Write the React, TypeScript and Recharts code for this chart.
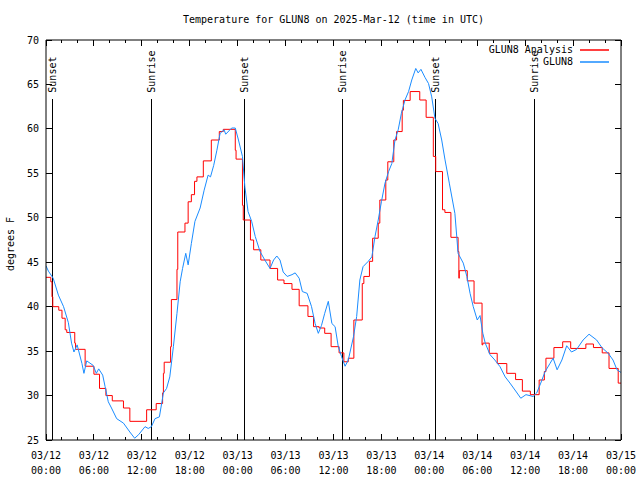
import React from "react";
import { LineChart, Line, XAxis, YAxis, ReferenceLine } from "recharts";

// hours since 03/12 00:00 UTC, temps in degrees F
const analysisHours = [
  0, 0.6, 0.75, 0.85, 1.6, 2.0, 2.4, 2.6, 3.6, 3.7, 4.9, 6.0, 6.7, 7.5, 8.3, 9.7, 10.5, 12.6, 13.8, 14.6,
  14.7, 14.8, 15.6, 15.7, 16.4, 16.5, 17.4, 17.8, 18.2, 18.6, 18.9, 19.7, 20.7, 21.7, 22.2, 23.7, 23.8,
  24.6, 24.7, 25.6, 26.0, 26.9, 28.05, 29.0, 29.8, 30.8, 31.7, 32.8, 33.5, 34.2, 34.9, 35.7, 36.7, 37.3,
  37.85, 38.55, 39.6, 39.8, 40.5, 40.9, 41.6, 41.8, 42.55, 42.8, 43.55, 43.9, 44.6, 44.75, 45.6, 46.8,
  47.6, 48.5, 48.8, 49.65, 49.95, 50.7, 51.6, 51.7, 51.75, 52.75, 53.6, 54.6, 54.7, 55.5, 56.5, 57.7,
  58.8, 59.65, 60.65, 61.75, 62.4, 62.6, 63.6, 64.7, 65.7, 67.6, 68.55, 69.65, 70.5, 71.65, 72,
];
const analysisTemps = [
  43.3, 42.8, 41.1, 40.0, 39.6, 38.7, 37.4, 37.1, 35.9, 35.2, 33.3, 32.4, 30.8, 30.0, 29.4, 28.6, 27.1, 28.4, 29.1, 30.3,
  32.5, 33.75, 35.5, 40.8, 44.2, 48.4, 49.4, 51.8, 52.6, 54.1, 54.6, 56.4, 58.75, 59.7, 59.95, 57.6, 56.6,
  51.4, 49.75, 47.5, 46.4, 45.25, 44.3, 43.0, 42.6, 41.95, 40.1, 38.9, 37.75, 37.6, 37.0, 35.5, 34.8, 33.8,
  34.2, 38.5, 42.6, 43.4, 45.1, 47.7, 49.4, 52.0, 54.25, 56.3, 58.75, 59.7, 62.1, 63.2, 64.2, 63.25,
  61.3, 56.9, 55.2, 50.9, 50.6, 47.8, 46.2, 43.2, 44.05, 42.9, 40.4, 35.7, 35.9, 34.75, 33.6, 32.5,
  31.8, 30.5, 30.1, 31.75, 32.7, 34.2, 35.4, 36.05, 35.3, 35.8, 35.4, 34.8, 33.05, 31.4, 31.4,
];

const obsHours = [
  0, 0.3, 0.9, 1.55, 2.2, 2.8, 3.2, 3.5, 3.9, 4.5, 4.75, 5.1, 5.9, 6.3, 6.6, 7.1, 7.4, 7.8, 8.2, 8.85,
  9.7, 10.5, 11.1, 11.6, 12.4, 12.8, 13.2, 13.65, 14.2, 14.7, 15.1, 15.5, 15.95, 16.4, 16.8, 17.1, 17.5,
  17.8, 18.2, 18.65, 19.3, 19.8, 20.3, 20.6, 21.0, 21.4, 21.8, 22.3, 22.5, 23.25, 23.7, 24.1, 24.6, 24.9,
  25.3, 25.75, 26.2, 26.8, 27.4, 28.05, 28.5, 28.9, 29.3, 29.7, 30.2, 30.8, 31.2, 31.7, 32.1, 32.7, 33.25,
  33.7, 34.1, 34.5, 34.9, 35.35, 35.8, 36.2, 36.6, 37.0, 37.45, 37.85, 38.5, 38.9, 39.3, 39.7, 40.35, 40.8,
  41.2, 41.6, 42.0, 42.45, 42.9, 43.3, 43.7, 44.1, 44.5, 44.95, 45.4, 45.8, 46.3, 46.6, 46.95, 47.45, 47.9,
  48.3, 48.7, 49.1, 49.55, 49.95, 50.5, 51.2, 51.6, 52.25, 52.7, 53.1, 53.5, 54.0, 54.35, 54.7, 55.0, 55.6,
  56.2, 56.85, 57.5, 58.1, 58.9, 59.45, 60.1, 61.0, 61.45, 61.95, 62.5, 63.1, 63.5, 64.0, 64.6, 65.2, 65.8,
  66.45, 67.25, 68.0, 68.95, 69.6, 70.4, 71.0, 71.5, 72,
];
const obsTemps = [
  44.6, 44.0, 43.2, 41.3, 40.0, 38.2, 35.9, 34.9, 35.7, 33.6, 32.5, 33.9, 33.4, 32.5, 33.0, 32.3, 31.0, 29.3, 28.6, 27.4,
  26.9, 25.9, 25.2, 25.6, 26.5, 26.3, 26.5, 27.4, 27.6, 30.3, 30.8, 32.1, 35.5, 39.25, 42.8, 44.3, 46.0,
  44.7, 47.1, 49.6, 51.1, 53.1, 54.8, 54.6, 55.9, 57.6, 59.5, 59.9, 59.4, 60.1, 60.1, 58.75, 56.9, 53.5,
  50.7, 49.6, 47.9, 46.2, 45.25, 44.3, 45.25, 45.7, 45.25, 43.9, 43.4, 43.6, 43.8, 43.2, 41.7, 41.5, 40.0,
  38.1, 37.0, 37.9, 39.25, 40.6, 38.1, 37.75, 35.5, 34.4, 33.3, 34.0, 36.6, 38.9, 43.0, 44.5, 45.1, 45.6,
  47.9, 49.75, 51.8, 53.9, 55.2, 56.1, 58.75, 59.9, 61.75, 63.25, 64.2, 65.5, 66.8, 66.3, 66.7, 65.8, 65.1,
  63.6, 61.2, 60.6, 58.75, 56.6, 53.9, 50.5, 46.0, 44.9, 43.4, 41.5, 40.0, 38.5, 39.0, 37.0, 35.9, 34.6,
  34.0, 33.25, 32.1, 31.4, 30.4, 29.7, 30.1, 29.9, 30.3, 31.4, 32.7, 33.6, 34.2, 32.9, 34.0, 35.6, 34.9,
  35.2, 36.25, 36.9, 36.25, 35.4, 34.75, 34.0, 32.9, 32.6,
];

const sunLabels = ["Sunset", "Sunrise", "Sunset", "Sunrise", "Sunset", "Sunrise"];
const sunHours = [0.8, 13.2, 24.8, 37.15, 48.75, 61.15];

const xTicks = [0, 2, 4, 6, 8, 10, 12, 14, 16, 18, 20, 22, 24, 26, 28, 30, 32, 34, 36, 38, 40, 42, 44, 46, 48, 50, 52, 54, 56, 58, 60, 62, 64, 66, 68, 70, 72];
const dayLabels = ["03/12", "03/12", "03/12", "03/12", "03/13", "03/13", "03/13", "03/13", "03/14", "03/14", "03/14", "03/14", "03/15"];
const timeLabels = ["00:00", "06:00", "12:00", "18:00", "00:00", "06:00", "12:00", "18:00", "00:00", "06:00", "12:00", "18:00", "00:00"];
const yTicks = [25, 30, 35, 40, 45, 50, 55, 60, 65, 70];

const RED = "#ff0000";
const BLUE = "#1a8cff";

const analysisData = analysisHours.map((h, i) => ({ h, t: analysisTemps[i] }));
const obsData = obsHours.map((h, i) => ({ h, t: obsTemps[i] }));

const mono = { fontFamily: "'DejaVu Sans Mono', monospace", fontSize: 10, fill: "#000" };

const BottomTick = ({ x, y, payload }: any) => {
  const v = payload.value;
  const major = v % 6 === 0;
  const i = v / 6;
  return (
    <g>
      <line x1={x} y1={y} x2={x} y2={y - (major ? 6 : 3)} stroke="#000" shapeRendering="crispEdges" />
      {major && (
        <text x={x} y={y + 19} textAnchor="middle" style={mono}>
          <tspan x={x}>{dayLabels[i]}</tspan>
          <tspan x={x} dy={15}>{timeLabels[i]}</tspan>
        </text>
      )}
    </g>
  );
};

const TopTick = ({ x, y, payload }: any) => {
  const major = payload.value % 6 === 0;
  return <line x1={x} y1={y} x2={x} y2={y + (major ? 6 : 3)} stroke="#000" shapeRendering="crispEdges" />;
};

const LeftTick = ({ x, y, payload }: any) => (
  <g>
    <line x1={x} y1={y} x2={x + 6} y2={y} stroke="#000" shapeRendering="crispEdges" />
    <text x={x - 7} y={y} dy="0.35em" textAnchor="end" style={mono}>
      {payload.value}
    </text>
  </g>
);

const RightTick = ({ x, y }: any) => (
  <line x1={x} y1={y} x2={x - 6} y2={y} stroke="#000" shapeRendering="crispEdges" />
);

export default function App() {
  return (
    <div style={{ position: "relative", width: 640, height: 480, background: "#fff" }}>
      <style>{"body{margin:0}"}</style>
      <div
        style={{
          position: "absolute", left: 46, width: 575, top: 14, textAlign: "center",
          fontFamily: "'DejaVu Sans Mono', monospace", fontSize: 10, lineHeight: "12px",
        }}
      >
        Temperature for GLUN8 on 2025-Mar-12 (time in UTC)
      </div>
      <LineChart width={640} height={480} margin={{ top: 0, right: 0, bottom: 0, left: 0 }}>
        <XAxis
          dataKey="h" type="number" domain={[0, 72]} ticks={xTicks} interval={0}
          height={40} tickSize={0} tickMargin={0} tickLine={false}
          axisLine={{ stroke: "#000" }} tick={<BottomTick />} allowDataOverflow
        />
        <XAxis
          xAxisId="top" orientation="top" dataKey="h" type="number" domain={[0, 72]} ticks={xTicks}
          interval={0} height={40} tickSize={0} tickMargin={0} tickLine={false}
          axisLine={{ stroke: "#000" }} tick={<TopTick />} allowDataOverflow
        />
        <YAxis
          type="number" domain={[25, 70]} ticks={yTicks} interval={0} width={46}
          tickSize={0} tickMargin={0} tickLine={false} axisLine={{ stroke: "#000" }}
          tick={<LeftTick />} allowDataOverflow
          label={(p: any) => {
            const vb = p.viewBox;
            const cx = vb.x + 10;
            const cy = vb.y + vb.height / 2 + 4;
            return (
              <text transform={`translate(${cx},${cy}) rotate(-90)`} textAnchor="middle" dy="0.35em" style={mono}>
                degrees F
              </text>
            );
          }}
        />
        <YAxis
          yAxisId="right" orientation="right" type="number" domain={[25, 70]} ticks={yTicks}
          interval={0} width={19} tickSize={0} tickMargin={0} tickLine={false}
          axisLine={{ stroke: "#000" }} tick={<RightTick />} allowDataOverflow
        />
        {sunHours.map((h, i) => (
          <ReferenceLine
            key={`sun-${i}`}
            segment={[{ x: h, y: 25 }, { x: h, y: 63.4 }]}
            stroke="#000"
            shapeRendering="crispEdges"
            label={(p: any) => {
              const vb = p.viewBox;
              return (
                <text transform={`translate(${vb.x},${vb.y - 6}) rotate(-90)`} dy="0.35em" textAnchor="start" style={mono}>
                  {sunLabels[i]}
                </text>
              );
            }}
          />
        ))}
        <Line
          data={analysisData} dataKey="t" type="stepAfter" stroke={RED} strokeWidth={1}
          dot={false} activeDot={false} isAnimationActive={false}
        />
        <Line
          data={obsData} dataKey="t" type="linear" stroke={BLUE} strokeWidth={1}
          dot={false} activeDot={false} isAnimationActive={false}
        />
      </LineChart>
      <div style={{ position: "absolute", top: 44, right: 67, fontFamily: "'DejaVu Sans Mono', monospace", fontSize: 10, lineHeight: "12px", textAlign: "right" }}>
        GLUN8 Analysis
        <br />
        GLUN8
      </div>
      <svg style={{ position: "absolute", left: 578, top: 42, zIndex: 2 }} width={34} height={26}>
        <line x1={2} y1={8} x2={31} y2={8} stroke={RED} strokeWidth={1.5} />
        <line x1={2} y1={20} x2={31} y2={20} stroke={BLUE} strokeWidth={1.5} />
      </svg>
    </div>
  );
}
